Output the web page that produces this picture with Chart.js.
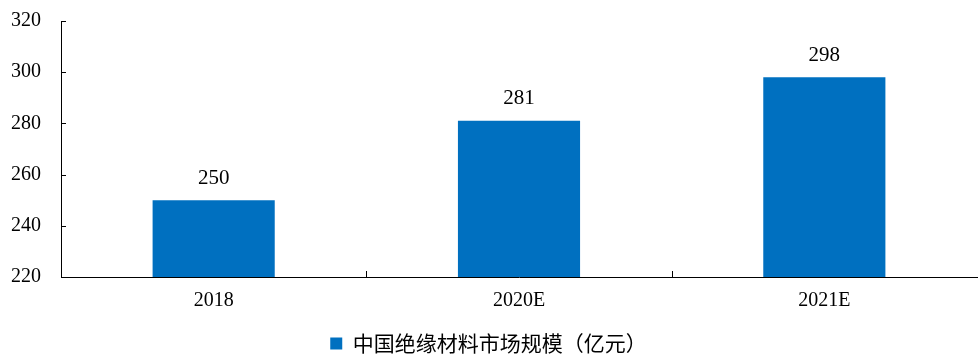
<!DOCTYPE html>
<html>
<head>
<meta charset="utf-8">
<script src="https://cdn.jsdelivr.net/npm/chart.js@4"></script>
<style>
  html, body { margin: 0; padding: 0; background: #fff; }
  #wrap { width: 979px; height: 356px; }
</style>
</head>
<body>
<div id="wrap"><canvas id="myChart" width="979" height="356"></canvas></div>
<script>
const categories = ['2018', '2020E', '2021E'];
const marketSize = [250, 281, 298];
const seriesName = '中国绝缘材料市场规模（亿元）';
const yMin = 220, yMax = 320, yStep = 20;

const serif = "'Times New Roman', 'Liberation Serif', serif";

// short inward tick marks on both axes, plus value labels over the bars
const axisMarks = {
    id: 'axisMarks',
    afterDraw(chart) {
        const { ctx, scales: { x, y } } = chart;
        ctx.save();
        ctx.strokeStyle = '#000';
        ctx.lineWidth = 1;
        ctx.beginPath();
        y.ticks.forEach((t, i) => {
            const py = Math.round(y.getPixelForTick(i)) + 0.5;
            ctx.moveTo(x.left, py);
            ctx.lineTo(x.left + 5, py);
        });
        for (let i = 1; i < categories.length; i++) {
            const px = Math.round((x.getPixelForValue(i - 1) + x.getPixelForValue(i)) / 2) + 0.5;
            ctx.moveTo(px, y.bottom);
            ctx.lineTo(px, y.bottom - 6);
        }
        ctx.stroke();

        const meta = chart.getDatasetMeta(0);
        ctx.fillStyle = '#000';
        ctx.font = '21px ' + serif;
        ctx.textAlign = 'center';
        ctx.textBaseline = 'middle';
        meta.data.forEach((bar, i) => {
            ctx.fillText(String(marketSize[i]), bar.x, y.getPixelForValue(marketSize[i]) - 22);
        });
        ctx.restore();
    }
};

new Chart(document.getElementById('myChart'), {
    type: 'bar',
    data: {
        labels: categories,
        datasets: [{
            label: seriesName,
            data: marketSize,
            backgroundColor: '#0070C0',
            borderWidth: 0,
            barPercentage: 0.4,
            categoryPercentage: 1
        }]
    },
    options: {
        responsive: false,
        animation: false,
        layout: { padding: { top: 21, right: 2, left: 0, bottom: -8 } },
        plugins: {
            tooltip: { enabled: false },
            legend: {
                position: 'bottom',
                labels: {
                    font: { family: "'Noto Sans CJK SC', sans-serif", size: 21 },
                    color: '#000',
                    boxWidth: 12,
                    boxHeight: 12,
                    padding: 0
                }
            }
        },
        scales: {
            x: {
                afterFit(scale) { scale.height = 56; },
                grid: { display: false, drawTicks: false },
                border: { display: true, color: '#000', width: 1 },
                ticks: {
                    color: '#000',
                    padding: 12,
                    font: { family: serif, size: 20 }
                }
            },
            y: {
                min: yMin,
                max: yMax,
                afterFit(scale) {
                    scale.width = 61;
                    scale.paddingTop = 0;
                    scale.paddingBottom = 0;
                },
                grid: { display: false, drawTicks: false },
                border: { display: true, color: '#000', width: 1 },
                ticks: {
                    stepSize: yStep,
                    color: '#000',
                    padding: 20,
                    font: { family: serif, size: 20 }
                }
            }
        }
    },
    plugins: [axisMarks]
});
</script>
</body>
</html>
